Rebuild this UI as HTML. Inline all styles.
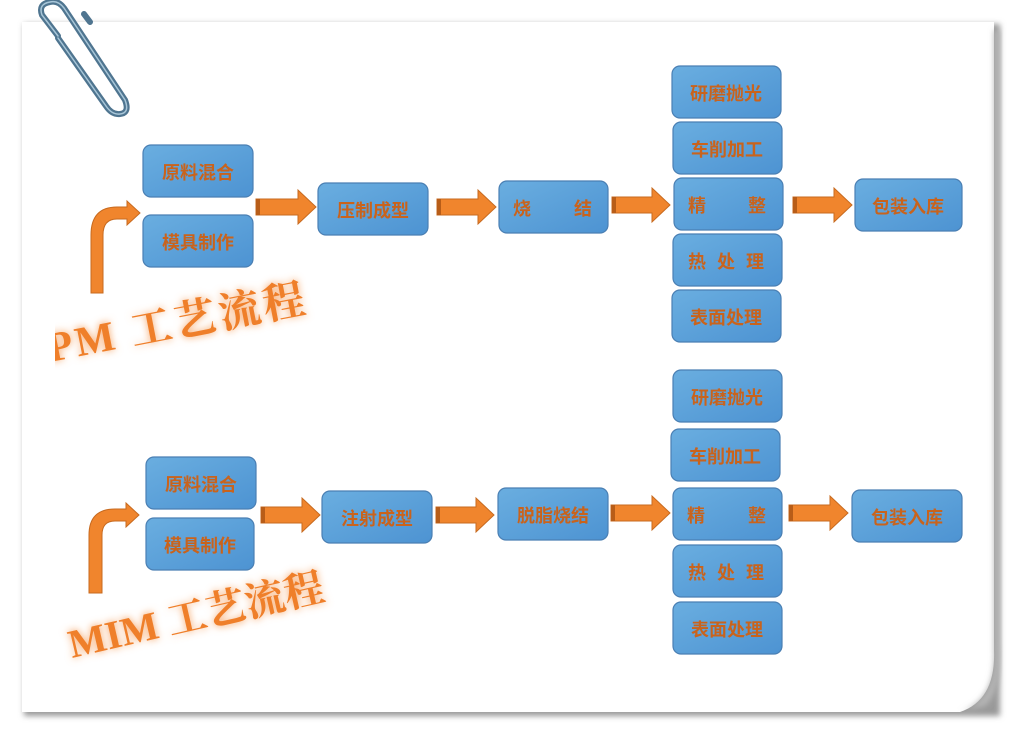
<!DOCTYPE html>
<html><head><meta charset="utf-8"><style>
html,body{margin:0;padding:0;background:#fff;}
svg{display:block}
text{font-family:"Liberation Sans","Noto Sans CJK SC",sans-serif;font-weight:bold;font-size:18px;fill:#c9631c;}
.t{font-family:"Liberation Serif","Noto Serif CJK SC",serif;}
</style></head><body>
<svg width="1018" height="734" viewBox="0 0 1018 734" xmlns="http://www.w3.org/2000/svg">
<defs>
<linearGradient id="bg" x1="0" y1="0" x2="1" y2="1">
<stop offset="0" stop-color="#6aaee0"/><stop offset="1" stop-color="#4d93d2"/></linearGradient>
<filter id="blur" x="-20%" y="-50%" width="140%" height="200%"><feGaussianBlur stdDeviation="4"/></filter>
<filter id="sh" x="-5%" y="-5%" width="110%" height="110%"><feGaussianBlur stdDeviation="3"/></filter>
<clipPath id="pc"><rect x="55" y="0" width="960" height="734"/></clipPath>
</defs>
<rect width="1018" height="734" fill="#fff"/>
<rect x="24" y="24" width="976" height="692" fill="#999" filter="url(#sh)"/>
<path d="M22 22 H994 V650 Q996 700 960 712 H22 Z" fill="#fff"/>
<path d="M994 30 V650 Q996 700 960 712 L985 706 Q1003 690 1000 640 V30 Z" fill="#b5b5b5" filter="url(#sh)"/>
<g fill="none" stroke="#4f7590" stroke-width="6" stroke-linecap="round">
<path d="M58 36 L42 15 Q38 4 50 2 Q58 0 64 8 L125 100 Q130 113 120 114 Q112 115 106 106 L58 38"/>
<path d="M84 14 L90 22"/>
</g>
<g fill="none" stroke="#a8c6d8" stroke-width="1.5" stroke-linecap="round">
<path d="M58 36 L42 15 Q38 4 50 2 Q58 0 64 8 L125 100 Q130 113 120 114 Q112 115 106 106 L58 38"/>
</g>

<g stroke="#4a7fb3" stroke-width="1.2" fill="url(#bg)">
<rect x="143" y="145" width="110" height="52" rx="8"/>
<rect x="143" y="215" width="110" height="52" rx="8"/>
<rect x="318" y="183" width="110" height="52" rx="8"/>
<rect x="499" y="181" width="109" height="52" rx="8"/>
<rect x="672" y="66" width="109" height="52" rx="8"/>
<rect x="673" y="122" width="109" height="52" rx="8"/>
<rect x="674" y="178" width="109" height="52" rx="8"/>
<rect x="673" y="234" width="109" height="52" rx="8"/>
<rect x="672" y="290" width="109" height="52" rx="8"/>
<rect x="855" y="179" width="107" height="52" rx="8"/>
<rect x="146" y="457" width="110" height="52" rx="8"/>
<rect x="146" y="518" width="108" height="52" rx="8"/>
<rect x="322" y="491" width="110" height="52" rx="8"/>
<rect x="498" y="488" width="110" height="52" rx="8"/>
<rect x="673" y="370" width="109" height="52" rx="8"/>
<rect x="671" y="429" width="109" height="52" rx="8"/>
<rect x="673" y="488" width="109" height="52" rx="8"/>
<rect x="673" y="545" width="109" height="52" rx="8"/>
<rect x="673" y="602" width="109" height="52" rx="8"/>
<rect x="852" y="490" width="110" height="52" rx="8"/>
</g>

<g fill="#f0852d" stroke="#c76a1f" stroke-width="1">
<path d="M256 199 H298 V190 L316 207 L298 224 V215 H256 Z"/>
<path d="M437 199 H478 V190 L496 207 L478 224 V215 H437 Z"/>
<path d="M612 197 H652 V188 L670 205 L652 222 V213 H612 Z"/>
<path d="M793 197 H834 V188 L852 205 L834 222 V213 H793 Z"/>
<path d="M261 507 H302 V498 L320 515 L302 532 V523 H261 Z"/>
<path d="M436 507 H476 V498 L494 515 L476 532 V523 H436 Z"/>
<path d="M611 505 H652 V496 L670 513 L652 530 V521 H611 Z"/>
<path d="M789 505 H830 V496 L848 513 L830 530 V521 H789 Z"/>
<path d="M91 293 V235 Q91 207 117 207 H127 V201 L140 213 L127 225 V219 H117 Q103 219 103 235 V293 Z"/>
<path d="M89 593 V535 Q89 509 115 509 H126 V503 L139 515 L126 527 V521 H115 Q102 521 102 535 V593 Z"/>
</g>
<g fill="#b85d18">
<rect x="256" y="199" width="4" height="16"/><rect x="437" y="199" width="4" height="16"/>
<rect x="612" y="197" width="4" height="16"/><rect x="793" y="197" width="4" height="16"/>
<rect x="261" y="507" width="4" height="16"/><rect x="436" y="507" width="4" height="16"/>
<rect x="611" y="505" width="4" height="16"/><rect x="789" y="505" width="4" height="16"/>
</g>

<g text-anchor="middle">
<text x="198" y="179">原料混合</text>
<text x="198" y="249">模具制作</text>
<text x="373" y="217">压制成型</text>
<text x="522" y="215">烧</text><text x="583" y="215">结</text>
<text x="726" y="100">研磨抛光</text>
<text x="727" y="156">车削加工</text>
<text x="697" y="212">精</text><text x="757" y="212">整</text>
<text x="697" y="268">热</text><text x="726" y="268">处</text><text x="755" y="268">理</text>
<text x="726" y="324">表面处理</text>
<text x="908" y="213">包装入库</text>

<text x="201" y="491">原料混合</text>
<text x="200" y="552">模具制作</text>
<text x="377" y="525">注射成型</text>
<text x="553" y="522">脱脂烧结</text>
<text x="727" y="404">研磨抛光</text>
<text x="725" y="463">车削加工</text>
<text x="696" y="522">精</text><text x="757" y="522">整</text>
<text x="697" y="579">热</text><text x="726" y="579">处</text><text x="755" y="579">理</text>
<text x="727" y="636">表面处理</text>
<text x="907" y="524">包装入库</text>
</g>

<g clip-path="url(#pc)">
<g transform="translate(50,362) rotate(-11)">
<text class="t" x="0" y="0" style="font-size:42px;fill:#f6a262;letter-spacing:3px" filter="url(#blur)">PM 工艺流程</text>
<text class="t" x="0" y="0" style="font-size:42px;fill:#ef7f2a;letter-spacing:3px">PM 工艺流程</text>
</g>
</g>
<g transform="translate(72,658) rotate(-13)">
<text class="t" x="0" y="0" style="font-size:40px;fill:#f6a262" filter="url(#blur)">MIM 工艺流程</text>
<text class="t" x="0" y="0" style="font-size:40px;fill:#ef7f2a">MIM 工艺流程</text>
</g>
</svg>
</body></html>
